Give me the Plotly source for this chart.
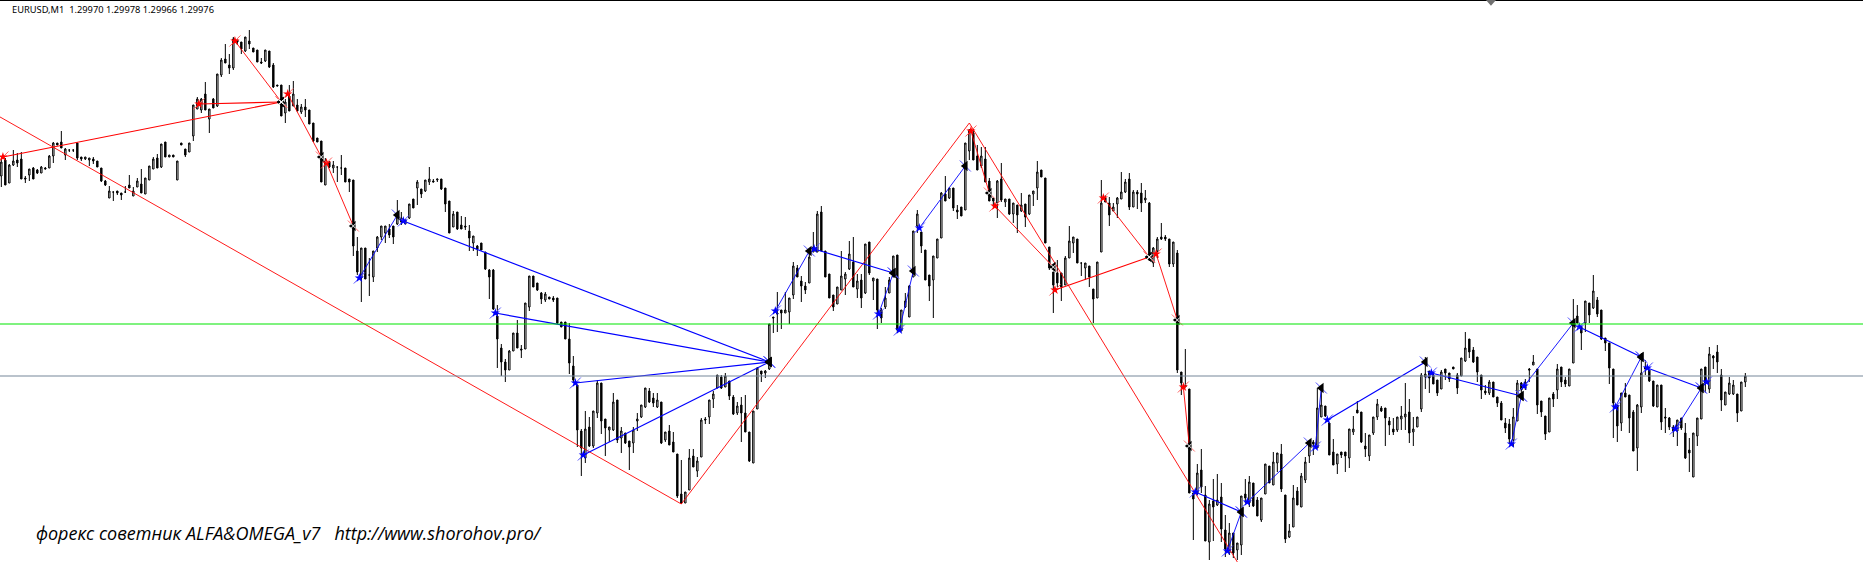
import plotly.graph_objects as go

# Prices are held in chart points (no price axis is drawn).
high = [842,842,836,850,847,848,824,831,833,831,
834,833,845,858,857,869,852,850,850,857,
843,843,842,843,839,832,820,814,808,809,
807,814,825,813,822,831,822,834,843,846,
856,858,845,845,839,857,851,857,895,903,
902,918,891,902,926,942,956,946,963,960,
958,963,970,952,950,942,950,949,937,915,
915,901,915,919,901,896,901,890,877,862,
859,842,839,839,833,845,832,821,820,763,
752,752,742,749,764,774,774,776,774,800,
788,780,796,801,820,811,820,833,821,821,
821,812,799,789,788,784,783,775,764,755,
757,748,731,731,695,656,641,650,667,680,
655,697,724,724,717,708,708,703,704,702,
678,678,677,644,615,571,589,583,589,620,
617,581,573,607,600,573,567,559,573,587,
595,612,612,607,607,598,568,575,568,546,
540,508,551,551,543,582,583,600,609,625,
625,627,619,605,598,603,605,568,589,633,
629,630,676,683,708,690,708,702,738,735,
724,718,748,768,789,794,749,726,705,713,
749,728,759,763,726,726,756,758,722,721,
692,713,723,744,745,690,707,715,769,790,
768,750,725,744,761,808,824,812,812,795,
793,857,871,871,855,853,853,822,802,820,
837,801,801,797,795,807,796,805,809,839,
830,822,753,728,740,727,744,774,763,761,
737,737,734,711,738,820,805,803,797,803,
828,821,827,810,810,817,810,798,753,763,
777,765,761,758,750,628,651,611,507,536,
551,514,500,521,526,517,485,477,467,457,
504,521,524,517,503,502,536,534,548,547,
556,505,476,515,513,527,543,558,560,612,
613,594,577,561,546,548,548,571,584,599,
588,567,565,583,601,594,592,583,582,583,
594,617,601,583,583,627,643,629,627,620,
630,631,627,633,627,642,668,661,653,643,
625,615,620,618,603,599,582,581,592,620,
618,621,632,645,631,599,584,602,608,636,
633,623,631,701,695,673,699,697,725,703,
690,662,657,631,595,607,617,605,590,596,
647,640,630,619,615,615,592,583,575,580,
582,577,562,567,582,631,633,653,645,655,
631,608,623,620,606,618,627]

low = [813,815,817,834,833,821,817,819,821,826,
827,831,832,837,855,852,840,848,848,840,
839,840,834,836,833,818,814,802,799,805,
800,807,812,804,813,807,806,820,831,832,
832,843,843,843,820,855,843,848,859,891,
887,890,867,892,893,923,937,926,930,955,
946,948,951,948,938,936,938,932,912,914,
884,877,889,894,889,886,883,876,858,858,
818,815,832,827,818,825,818,808,744,725,
698,721,704,718,748,760,757,762,756,775,
775,776,781,792,795,802,808,815,818,818,
810,788,767,773,770,771,770,749,749,744,
750,730,701,690,632,624,618,630,649,652,
642,651,689,713,709,696,698,701,698,676,
673,661,626,618,553,524,537,553,552,582,
566,544,558,569,557,547,556,530,547,569,
582,592,597,593,592,556,558,555,548,502,
496,497,510,533,523,543,576,576,592,612,
611,613,600,585,585,558,568,538,537,591,
618,622,630,667,668,671,687,676,701,723,
698,706,717,748,748,749,723,702,689,696,
710,705,730,713,702,692,706,725,700,671,
677,691,707,723,667,669,692,683,723,767,
747,720,699,682,742,762,799,801,789,781,
784,790,840,840,830,832,818,799,793,782,
798,793,785,777,767,788,773,785,794,800,
823,757,730,687,713,699,715,742,747,737,
724,720,713,677,702,748,798,774,789,782,
801,807,790,793,791,788,797,739,733,742,
760,759,733,733,627,605,613,507,460,505,
507,459,440,459,494,458,443,445,442,440,
445,497,493,493,484,478,506,517,515,528,
508,457,462,473,495,493,517,537,545,552,
583,583,545,535,526,542,528,532,565,587,
557,543,539,565,580,588,554,565,565,568,
570,570,557,554,573,588,611,607,616,604,
611,620,618,631,606,624,638,642,637,618,
601,605,605,603,593,580,567,557,553,579,
607,610,618,635,586,583,560,568,593,601,
613,613,614,637,677,650,668,677,691,683,
660,649,616,562,558,569,603,567,549,529,
587,625,618,593,593,570,567,570,563,554,
570,541,528,523,554,581,607,607,631,627,
589,595,605,605,578,589,613]

open_ = [824,840,817,835,840,841,822,825,832,830,
827,832,832,844,857,858,845,850,850,857,
843,841,840,841,839,832,819,802,808,809,
807,808,815,804,813,816,806,820,831,842,
833,858,843,845,820,857,851,848,864,891,
890,906,881,901,894,925,941,935,932,960,
958,949,959,952,950,938,939,949,935,915,
915,887,904,894,895,888,893,890,877,862,
859,815,838,832,833,832,832,821,820,749,
722,752,725,723,752,763,767,771,774,776,
782,776,782,801,812,811,809,818,819,820,
821,812,799,773,788,775,774,769,757,754,
757,748,730,730,684,652,638,630,649,667,
651,651,693,724,717,707,700,703,702,702,
678,678,661,634,615,569,542,573,554,587,
617,581,570,570,600,562,567,559,557,579,
583,593,609,602,593,598,560,569,558,546,
506,497,510,544,529,543,581,583,601,612,
623,613,619,603,587,595,587,568,537,591,
629,627,631,683,687,690,687,688,705,732,
719,714,717,748,748,788,749,726,705,696,
710,721,731,738,711,720,707,758,719,721,
690,693,707,723,745,669,693,683,723,774,
768,750,725,720,742,762,806,802,812,790,
793,790,849,867,844,834,841,819,802,797,
821,798,801,786,795,789,796,786,806,812,
830,822,753,728,727,727,715,742,757,761,
737,732,734,711,702,748,802,797,789,796,
801,808,821,793,808,807,800,797,737,749,
763,763,761,736,747,628,615,611,507,507,
530,505,458,499,495,503,470,447,467,450,
455,506,497,517,500,480,506,534,515,537,
546,505,463,473,509,493,520,544,558,552,
583,594,577,548,536,548,548,542,568,590,
588,554,544,567,583,592,592,579,571,570,
581,583,588,568,573,591,623,629,625,620,
611,631,627,633,625,624,639,661,650,643,
625,609,607,618,603,597,577,576,560,579,
617,612,631,635,631,599,584,568,606,610,
633,620,614,637,684,673,677,697,692,700,
690,662,657,631,595,577,607,605,588,552,
593,633,630,619,593,615,583,582,573,569,
582,567,550,523,564,581,633,611,644,648,
625,595,606,606,606,589,618]

close = [838,815,835,839,837,821,821,831,821,827,
833,831,844,857,855,852,851,850,850,842,
841,843,842,839,833,819,815,809,808,807,
805,808,812,809,819,807,822,834,841,832,
856,843,845,843,839,855,845,857,895,901,
901,890,891,892,926,940,937,932,961,958,
951,963,956,948,938,937,950,933,913,914,
884,898,889,906,889,893,890,876,859,858,
818,839,833,835,833,832,818,818,754,728,
752,721,725,749,763,774,774,765,763,786,
778,780,796,792,818,806,820,821,818,821,
811,796,767,786,771,771,773,762,764,751,
750,731,723,691,661,638,630,649,667,652,
650,697,724,713,710,701,706,701,700,677,
673,661,637,620,570,552,571,554,589,617,
579,572,573,598,560,569,557,553,570,581,
595,612,598,597,600,557,568,555,548,504,
497,508,542,533,539,580,580,600,606,625,
612,624,604,586,594,587,568,539,589,632,
626,629,676,682,686,687,690,702,734,723,
714,710,743,753,786,749,723,702,693,713,
724,726,746,713,719,702,756,727,722,690,
682,702,720,744,670,690,699,714,769,786,
754,720,714,744,761,807,799,812,792,788,
784,857,870,840,830,844,818,799,799,819,
800,801,786,797,785,795,783,805,809,828,
823,757,732,715,717,713,742,759,763,737,
737,737,723,701,738,797,798,785,793,802,
808,818,793,808,806,797,802,740,752,761,
761,761,736,758,630,617,613,507,501,527,
513,459,496,493,500,471,451,467,447,457,
504,502,518,494,484,502,536,517,538,547,
511,461,469,502,495,524,538,555,556,592,
595,584,545,535,546,545,544,571,571,587,
558,551,565,583,596,589,582,575,568,583,
584,586,567,571,583,625,626,622,616,607,
628,627,621,631,612,642,652,648,638,628,
610,607,618,603,597,580,572,561,583,617,
610,618,630,638,595,588,566,602,601,631,
618,616,631,677,677,667,699,685,709,686,
661,657,632,597,574,607,603,582,549,595,
627,631,619,594,615,578,582,573,569,580,
572,542,547,567,582,631,617,646,642,638,
600,608,617,615,587,618,624]

candles = list(range(len(close)))

green_level = 676
grey_level = 624

red_chain_k = [-10, 170, 242, 309]
red_chain_p = [905, 496, 877, 438]

red_thin_from_k = [58.4, 71.6, 81.3, 242.4, 248.4, 275.5, 288.7, 295.5]
red_thin_from_p = [959, 906, 837, 869, 794, 802, 746, 613]
red_thin_to_k = [70, 80, 88, 247, 263, 287, 294, 297]
red_thin_to_p = [898, 843, 774, 807, 733, 743, 680, 554]

red_thick_from_k = [0.4, 49.4, 263.4]
red_thick_from_p = [843, 896, 710]
red_thick_to_k = [70, 70, 287]
red_thick_to_p = [898, 898, 743]

blue_thin_from_k = [89.5, 193.5, 219.3, 224.5, 229.5, 306.5, 311.5, 328.5, 377.5, 380.7, 403.5, 418.5]
blue_thin_from_p = [722, 689, 686, 670, 772, 449, 498, 553, 556, 614, 593, 571]
blue_thin_to_k = [99, 202, 223, 228, 241, 310, 327, 330, 380, 393, 410, 425]
blue_thin_to_p = [785, 749, 727, 729, 834, 488, 557, 612, 604, 677, 643, 612]

blue_thick_from_k = [100.5, 123.5, 143.5, 145.5, 203.2, 298.5, 331.5, 357.5, 394.5, 411.5]
blue_thick_from_p = [779, 687, 617, 545, 751, 508, 580, 627, 673, 632]
blue_thick_to_k = [192, 192, 192, 192, 223, 310, 356, 380, 410, 425]
blue_thick_to_p = [638, 638, 638, 638, 727, 488, 638, 604, 643, 612]

extra_blue_star_k = [426.3]
extra_blue_star_p = [618]

title_text = "EURUSD,M1\u00a0\u00a01.29970 1.29978 1.29966 1.29976"
footer_text = "форекс советник ALFA&OMEGA_v7\u00a0\u00a0\u00a0http://www.shorohov.pro/"


def segments(x0, y0, x1, y1):
    xs, ys = [], []
    for a, b, c, d in zip(x0, y0, x1, y1):
        xs += [a, c, None]
        ys += [b, d, None]
    return xs, ys


fig = go.Figure()

fig.add_trace(go.Candlestick(
    x=candles, open=open_, high=high, low=low, close=close,
    whiskerwidth=0,
    increasing=dict(line=dict(color="#000000", width=1), fillcolor="#ffffff"),
    decreasing=dict(line=dict(color="#000000", width=1), fillcolor="#000000"),
    hoverinfo="skip", showlegend=False,
))

RED = "#ff0000"
BLUE = "#0000ff"


def add_line(x, y, color, width):
    fig.add_trace(go.Scatter(x=x, y=y, mode="lines", line=dict(color=color, width=width),
                             hoverinfo="skip", showlegend=False))


def add_marks(x, y, symbol, size, color, line_width=0):
    fig.add_trace(go.Scatter(x=x, y=y, mode="markers",
                             marker=dict(symbol=symbol, size=size, color=color,
                                         line=dict(color=color, width=line_width)),
                             hoverinfo="skip", showlegend=False))


add_line(red_chain_k, red_chain_p, RED, 0.9)
for x0, y0, x1, y1, color, width in [
    (red_thin_from_k, red_thin_from_p, red_thin_to_k, red_thin_to_p, RED, 0.9),
    (red_thick_from_k, red_thick_from_p, red_thick_to_k, red_thick_to_p, RED, 1.2),
    (blue_thin_from_k, blue_thin_from_p, blue_thin_to_k, blue_thin_to_p, BLUE, 0.9),
    (blue_thick_from_k, blue_thick_from_p, blue_thick_to_k, blue_thick_to_p, BLUE, 1.2),
]:
    xs, ys = segments(x0, y0, x1, y1)
    add_line(xs, ys, color, width)

red_from_k = red_thin_from_k + red_thick_from_k
red_from_p = red_thin_from_p + red_thick_from_p
red_to_k = red_thin_to_k + red_thick_to_k
red_to_p = red_thin_to_p + red_thick_to_p
blue_from_k = blue_thin_from_k + blue_thick_from_k + extra_blue_star_k
blue_from_p = blue_thin_from_p + blue_thick_from_p + extra_blue_star_p
blue_to_k = blue_thin_to_k + blue_thick_to_k
blue_to_p = blue_thin_to_p + blue_thick_to_p

# Expert-advisor arrows: star with a diagonal tail at each start, black wedge at each end
add_marks(red_from_k, red_from_p, "line-ne", 11, "#ff6060", 1)
add_marks(blue_from_k, blue_from_p, "line-ne", 11, "#5050ff", 1)
add_marks(red_from_k, red_from_p, "star", 7, RED)
add_marks(blue_from_k, blue_from_p, "star", 7, BLUE)
add_marks(red_to_k, red_to_p, "line-nw", 11, "#ff7070", 1)
add_marks(blue_to_k, blue_to_p, "line-nw", 11, "#5050ff", 1)
add_marks(red_to_k + blue_to_k, red_to_p + blue_to_p, "triangle-left", 9, "#000000")
add_marks(red_to_k, red_to_p, "x-thin", 5, "#ffffff", 1)

fig.update_layout(
    width=1863, height=581,
    margin=dict(l=0, r=0, t=0, b=0),
    paper_bgcolor="#ffffff", plot_bgcolor="#ffffff",
    showlegend=False, hovermode=False, boxgap=0.5,
    xaxis=dict(range=[-0.333, 465.417], visible=False, rangeslider=dict(visible=False), fixedrange=True),
    yaxis=dict(range=[419, 1000], visible=False, fixedrange=True),
    shapes=[
        dict(type="line", xref="paper", yref="y", x0=0, x1=1, y0=green_level, y1=green_level,
             line=dict(color="#00e600", width=1.2), layer="above"),
        dict(type="line", xref="paper", yref="y", x0=0, x1=1, y0=grey_level, y1=grey_level,
             line=dict(color="#778899", width=1.2), layer="above"),
        dict(type="line", xref="paper", yref="paper", x0=0, x1=1, y0=0.9995, y1=0.9995,
             line=dict(color="#000000", width=1.5)),
        dict(type="path", xref="paper", yref="paper",
             path="M 0.7976 1 L 0.8030 1 L 0.8003 0.990 Z",
             fillcolor="#707070", line=dict(width=0)),
    ],
    annotations=[
        dict(text=title_text, xref="paper", yref="paper", x=10/1863, y=1-10/581,
             xanchor="left", yanchor="middle", showarrow=False,
             font=dict(family="Noto Sans", size=9.3, color="#000000")),
        dict(text=footer_text, xref="paper", yref="paper", x=33.5/1863, y=1-533/581,
             xanchor="left", yanchor="middle", showarrow=False,
             font=dict(family="Open Sans", size=18, color="#000000", style="italic")),
    ],
)

fig.write_html("out.html", config=dict(displayModeBar=False),
               post_script="document.body.style.margin='0';document.body.style.overflow='hidden';")
